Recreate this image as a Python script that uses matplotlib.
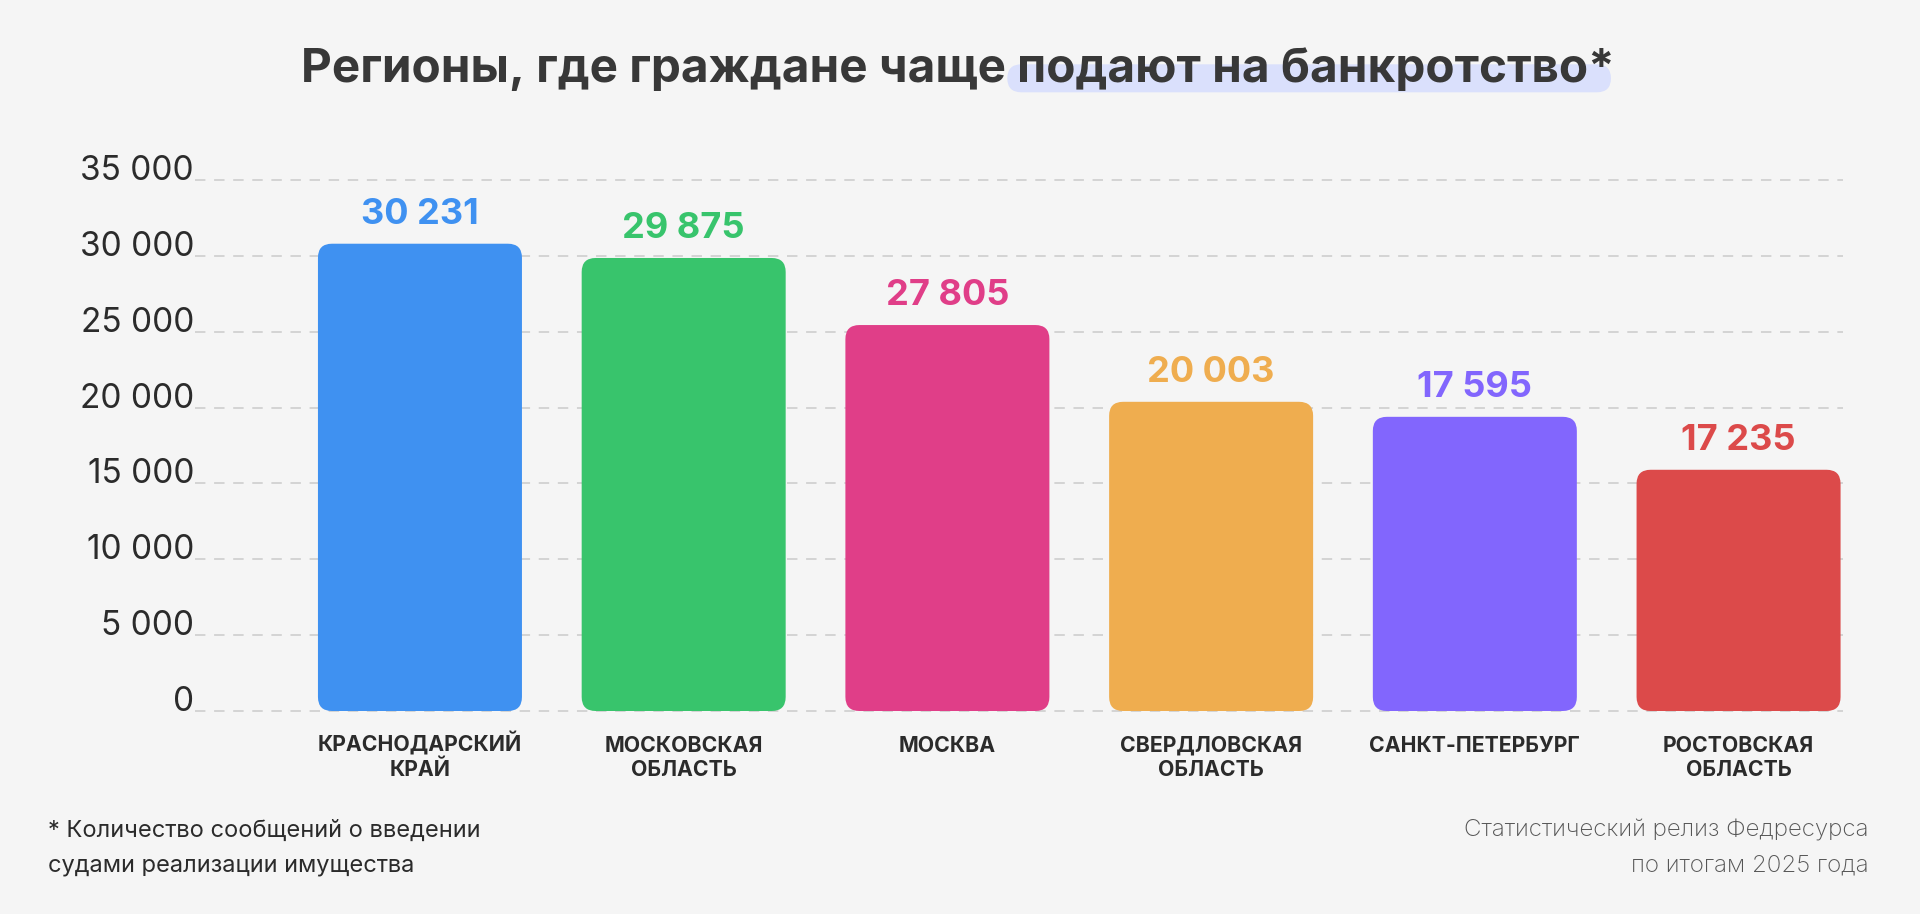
import matplotlib
matplotlib.use("Agg")
import matplotlib.pyplot as plt
from matplotlib.patches import FancyBboxPatch
from matplotlib.transforms import IdentityTransform, blended_transform_factory

plt.rcParams['font.family'] = ['Inter', 'DejaVu Sans']

# ---- data ----
categories = ["КРАСНОДАРСКИЙ\nКРАЙ", "МОСКОВСКАЯ\nОБЛАСТЬ", "МОСКВА",
              "СВЕРДЛОВСКАЯ\nОБЛАСТЬ", "САНКТ-ПЕТЕРБУРГ", "РОСТОВСКАЯ\nОБЛАСТЬ"]
label_values = [30231, 29875, 27805, 20003, 17595, 17235]      # printed numbers
bar_heights = [30800, 29860, 25440, 20380, 19390, 15900]       # bar heights as drawn
colors = ["#3f91f1", "#38c46c", "#e03e88", "#efad4f", "#8266fd", "#dc4a4a"]
y_ticks = [0, 5000, 10000, 15000, 20000, 25000, 30000, 35000]
y_tick_labels = ["0", "5 000", "10 000", "15 000", "20 000", "25 000", "30 000", "35 000"]
title_part1 = "Регионы, где граждане чаще"
title_part2 = "подают на банкротство*"
footnote = ["* Количество сообщений о введении", "судами реализации имущества"]
source = ["Статистический релиз Федресурса", "по итогам 2025 года"]

W, H = 1920, 914
BG = "#f5f5f5"
TXT = "#2b2b2b"
fig = plt.figure(figsize=(W / 100, H / 100), dpi=100, facecolor=BG)

y0_px, y35_px = 711.0, 180.0
ppu = (y0_px - y35_px) / 35000.0
pad = 400
ax_bottom = y0_px + pad * ppu
ax_top = y35_px - pad * ppu
ax_left, ax_right = 195.0, 1843.0
ax = fig.add_axes([ax_left / W, 1 - ax_bottom / H, (ax_right - ax_left) / W, (ax_bottom - ax_top) / H])
ax.set_facecolor(BG)
xmin, xmax = -0.853, 5.396
ax.set_xlim(xmin, xmax)
ax.set_ylim(-pad, 35000 + pad)
ax.axis('off')

px_per_x = (ax_right - ax_left) / (xmax - xmin)

# grid
for t in y_ticks:
    ax.axhline(t, color="#cfcfcf", lw=1.25, ls=(0, (6.0, 5.0)), zorder=0)

trans_lbl = blended_transform_factory(ax.transAxes, ax.transData)
for t, lab in zip(y_ticks, y_tick_labels):
    ax.text(-1.0 / (ax_right - ax_left), t, lab, transform=trans_lbl, ha='right', va='baseline',
            fontsize=24, color=TXT)

# bars
bw = 204.0 / px_per_x
r_px = 14.0
aspect = px_per_x / ppu
for i, (h, c) in enumerate(zip(bar_heights, colors)):
    p = FancyBboxPatch((i - bw / 2, 0), bw, h,
                       boxstyle=f"round,pad=0,rounding_size={r_px / px_per_x}",
                       mutation_aspect=aspect, fc=c, ec='none', zorder=2)
    ax.add_patch(p)
    ax.annotate(f"{label_values[i]:,}".replace(",", " "), (i, h), xytext=(0, 20 * 0.72),
                textcoords='offset points', ha='center', va='baseline',
                fontsize=26, fontweight='bold', color=c, zorder=3)

# category labels
line_baselines = [751.7, 775.5]
for i, cat in enumerate(categories):
    xp = ax.transData.transform((i, 0))[0]
    for j, line in enumerate(cat.split("\n")):
        fig.text(xp / W, 1 - line_baselines[j] / H, line, ha='center', va='baseline',
                 fontsize=15.3, fontweight='bold', color=TXT)

# title with highlight
fig.canvas.draw()
renderer = fig.canvas.get_renderer()
tkw = dict(fontsize=34.3, fontweight='bold', color="#383838")
tmp_full = fig.text(0, 0, title_part1 + " " + title_part2, **tkw)
tmp_2 = fig.text(0, 0, title_part2, **tkw)
wf = tmp_full.get_window_extent(renderer).width
w2 = tmp_2.get_window_extent(renderer).width
tmp_full.remove(); tmp_2.remove()
cx = 958.0
base_y = 82.3
x0 = cx - wf / 2
x2l = x0 + wf - w2
x2r = x0 + wf
pill = FancyBboxPatch((x2l - 10, H - (base_y + 10)), (x2r - 4) - (x2l - 10), 28,
                      boxstyle="round,pad=0,rounding_size=14", transform=IdentityTransform(),
                      fc="#dae0fc", ec='none', zorder=1)
fig.add_artist(pill)
fig.text(x0 / W, 1 - base_y / H, title_part1, ha='left', va='baseline', zorder=3, **tkw)
fig.text(x2r / W, 1 - base_y / H, title_part2, ha='right', va='baseline', zorder=3, **tkw)

# footnote & source
for j, line in enumerate(footnote):
    fig.text(48 / W, 1 - [836.7, 871.7][j] / H, line, ha='left', va='baseline',
             fontsize=17, color=TXT)
for j, line in enumerate(source):
    fig.text(1869 / W, 1 - [836.7, 871.7][j] / H, line, ha='right', va='baseline',
             fontsize=17.4, fontweight='light', color="#555555")

fig.savefig("out.png", dpi=100, facecolor=BG)
